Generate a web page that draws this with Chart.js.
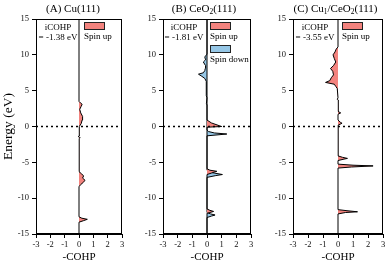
<!DOCTYPE html>
<html>
<head>
<meta charset="utf-8">
<script src="https://cdn.jsdelivr.net/npm/chart.js@4.4.1/dist/chart.umd.min.js"></script>
<style>
  body { margin: 0; background: #fff; }
  .wrap { position: relative; width: 390px; height: 264px; }
  canvas { position: absolute; top: 0; }
</style>
</head>
<body>
<div class="wrap">
  <canvas id="cA" width="130" height="264" style="left:0px"></canvas>
  <canvas id="cB" width="130" height="264" style="left:130px"></canvas>
  <canvas id="cC" width="130" height="264" style="left:260px"></canvas>
</div>
<script>
// energies (eV) and -COHP values
const energyA = [-15, -13.35, -13.15, -12.95, -12.8, -12.6, -8.4, -8.1, -7.8, -7.5, -7.2, -6.9, -6.6, -6.3,
  -4.4, -4.3, -4.2, -1.7, -1.55, -1.4, -1.25, -1.1, -0.3, 0, 0.4, 0.9, 1.4, 1.9, 2.4, 2.8, 3.1, 3.3, 3.5, 15];
const cohpA_up = [0, 0, 0.3, 0.58, 0.2, 0, 0, 0.12, 0.3, 0.42, 0.25, 0.32, 0.18, 0,
  0, 0.06, 0, 0, 0.08, -0.06, 0.05, 0, 0, 0.06, 0.15, 0.22, 0.25, 0.12, 0.05, 0.15, 0.22, 0.1, 0, 0];

const energyB_up = [-15, -12.1, -12.0, -11.85, -11.7, -11.5, -6.7, -6.5, -6.25, -6.1, -5.9, -0.1, 0, 0.1, 0.5, 0.9, 15];
const cohpB_up = [0, 0, 0.2, 0.45, 0.2, 0, 0, 0.3, 0.67, 0.2, 0, 0, 1.0, 0.85, 0.3, 0, 0];

const energyB_dn = [-15, -12.7, -12.5, -12.35, -12.2, -12.0, -7.1, -6.85, -6.7, -6.5, -6.3, -6.1,
  -1.3, -1.05, -0.9, -0.7, -0.5, 3.0, 3.2, 4.0, 4.3, 5.0, 5.5, 6.0, 6.3, 6.7, 7.0, 7.3, 7.5, 7.8, 8.1, 8.5,
  9.0, 9.3, 9.7, 9.9, 10.1, 15];
const cohpB_dn = [0, 0, 0.3, 0.55, 0.25, 0, 0, 0.6, 1.05, 0.5, 0.1, 0,
  0, 1.35, 0.5, 0.1, 0, 0, -0.04, 0, -0.05, -0.05, -0.04, -0.05, -0.06, -0.15, -0.35, -0.58, -0.25, -0.15, -0.12, -0.1,
  -0.25, -0.1, -0.15, -0.08, 0, 0];

const energyC = [-15, -12.2, -12.0, -11.9, -11.75, -11.6, -5.8, -5.65, -5.5, -5.4, -5.25, -4.75, -4.55, -4.45, -4.3, -4.1,
  -3.0, -2.9, -2.8, 0.2, 0.45, 0.6, 0.9, 1.7, 1.9, 2.1, 2.3, 2.5, 3.7, 3.8, 4.0,
  5.3, 5.6, 5.9, 6.15, 6.4, 6.8, 7.2, 7.7, 8.1, 8.5, 9.0, 9.5, 10.0, 10.4, 10.8, 11.1, 15];
const cohpC_up = [0, 0, 0.5, 1.3, 0.6, 0, 0, 0.9, 2.34, 1.0, 0, 0, 0.4, 0.63, 0.3, 0,
  0, 0.05, 0, 0, 0.27, 0.15, 0, 0, 0.18, 0, 0.06, 0, 0, -0.05, 0,
  -0.05, -0.15, -0.25, -0.83, -0.55, -0.45, -0.3, -0.35, -0.5, -0.3, -0.15, -0.25, -0.33, -0.2, -0.12, 0, 0];

const icohp = ['-1.38', '-1.81', '-3.55'];
const xRange = [-3, 3];
const yRange = [-15, 15];

const SERIF = "'Liberation Serif', 'Times New Roman', serif";
const pink = '#f3837e';
const blue = '#96c7e6';

function pts(es, vs) {
  return es.map((e, i) => ({ x: vs[i], y: e }));
}

function curve(label, es, vs, color) {
  return {
    label: label,
    data: pts(es, vs),
    borderColor: '#000',
    borderWidth: 1,
    backgroundColor: color,
    fill: 'origin',
    pointRadius: 0,
    tension: 0
  };
}

function fermi() {
  return {
    label: 'EF',
    data: [{ x: xRange[0], y: 0 }, { x: xRange[1], y: 0 }],
    borderColor: '#000',
    borderWidth: 1.5,
    borderDash: [2, 3],
    pointRadius: 0,
    fill: false
  };
}

// title parts: [text, isSubscript]
function drawParts(ctx, parts, cx, y, size) {
  let w = 0;
  parts.forEach(p => {
    ctx.font = (p[1] ? size * 0.68 : size) + 'px ' + SERIF;
    w += ctx.measureText(p[0]).width;
  });
  let x = cx - w / 2;
  parts.forEach(p => {
    ctx.font = (p[1] ? size * 0.68 : size) + 'px ' + SERIF;
    ctx.fillText(p[0], x, p[1] ? y + 3 : y);
    x += ctx.measureText(p[0]).width;
  });
}

const decor = {
  id: 'decor',
  afterDraw(chart) {
    const o = chart.options.plugins.decor;
    const { ctx, chartArea: a } = chart;
    ctx.save();
    ctx.strokeStyle = '#000';
    ctx.lineWidth = 1;
    ctx.strokeRect(a.left + 0.5, a.top + 0.5, a.right - a.left - 1, a.bottom - a.top - 1);
    ctx.fillStyle = '#000';
    ctx.textBaseline = 'middle';
    ctx.textAlign = 'left';
    drawParts(ctx, o.title, o.titleX, 9, 11);
    ctx.textAlign = 'center';
    ctx.font = '9px ' + SERIF;
    ctx.fillText('iCOHP', o.noteX, 27.5);
    ctx.fillText('= ' + o.icohp + ' eV', o.noteX, 38);
    ctx.textAlign = 'left';
    let y = 22;
    chart.data.datasets.forEach(ds => {
      if (ds.label === 'EF') return;
      ctx.fillStyle = ds.backgroundColor;
      ctx.fillRect(o.legX, y, 21, 8);
      ctx.strokeStyle = '#222';
      ctx.strokeRect(o.legX + 0.5, y + 0.5, 20, 7);
      ctx.fillStyle = '#000';
      ctx.font = '9px ' + SERIF;
      ctx.fillText(ds.label, o.legX, y + 15);
      y += 23;
    });
    ctx.restore();
  }
};

function panel(id, datasets, yWidth, rightPad, showYTitle, deco) {
  const tickFont = { family: SERIF, size: 8.5 };
  return new Chart(document.getElementById(id), {
    type: 'line',
    data: { datasets: datasets },
    options: {
      indexAxis: 'y',
      responsive: false,
      animation: false,
      events: [],
      layout: { padding: { top: 19, right: rightPad, left: 0, bottom: 0 } },
      plugins: { legend: { display: false }, tooltip: { enabled: false }, decor: deco },
      scales: {
        x: {
          type: 'linear', min: xRange[0], max: xRange[1],
          ticks: { stepSize: 1, font: tickFont, color: '#111', padding: 2, maxRotation: 0 },
          grid: { drawOnChartArea: false, tickLength: 4, color: '#000' },
          border: { color: '#000' },
          title: { display: true, text: '-COHP', font: { family: SERIF, size: 11 }, color: '#000', padding: 0 },
          afterFit: s => { s.height = 30; }
        },
        y: {
          type: 'linear', min: yRange[0], max: yRange[1],
          ticks: { stepSize: 5, font: tickFont, color: '#111', padding: 3 },
          grid: { drawOnChartArea: false, tickLength: 4, color: '#000' },
          border: { color: '#000' },
          title: { display: showYTitle, text: 'Energy (eV)', font: { family: SERIF, size: 13.5 }, color: '#000', padding: 0 },
          afterFit: s => { s.width = yWidth; }
        }
      }
    },
    plugins: [decor]
  });
}

panel('cA', [fermi(), curve('Spin up', energyA, cohpA_up, pink)], 36, 8, true,
  { title: [['(A) Cu(111)', 0]], titleX: 73, noteX: 58, legX: 84, icohp: icohp[0] });

panel('cB', [fermi(), curve('Spin up', energyB_up, cohpB_up, pink), curve('Spin down', energyB_dn, cohpB_dn, blue)], 33, 9, false,
  { title: [['(B) CeO', 0], ['2', 1], ['(111)', 0]], titleX: 74, noteX: 54, legX: 80, icohp: icohp[1] });

panel('cC', [fermi(), curve('Spin up', energyC, cohpC_up, pink)], 33, 7, false,
  { title: [['(C) Cu', 0], ['1', 1], ['/CeO', 0], ['2', 1], ['(111)', 0]], titleX: 75.5, noteX: 55, legX: 82, icohp: icohp[2] });
</script>
</body>
</html>
